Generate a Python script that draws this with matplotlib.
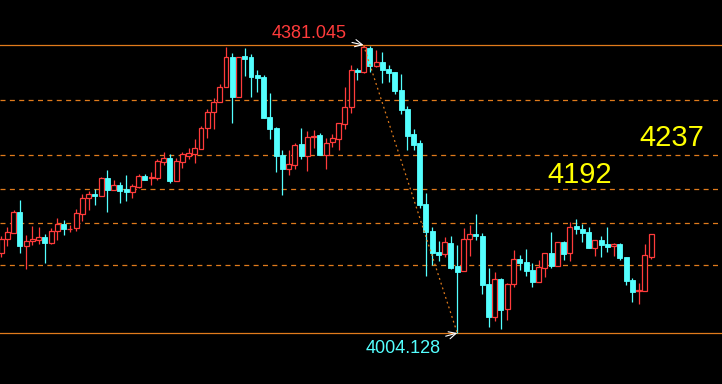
import matplotlib
matplotlib.use('Agg')
import matplotlib.pyplot as plt
import numpy as np

# OHLC, one entry per candle (left to right)
opens = [4108.8, 4127.2, 4135.0, 4162.5, 4118.0, 4124.5, 4125.8, 4129.8, 4121.9, 4137.6,
         4146.8, 4139.6, 4141.5, 4159.9, 4180.8, 4186.0, 4183.4, 4207.0, 4191.3, 4197.8,
         4192.6, 4188.7, 4195.2, 4209.6, 4207.6, 4207.0, 4227.9, 4233.2, 4203.1, 4227.9,
         4235.8, 4238.4, 4244.9, 4272.4, 4293.4, 4306.4, 4326.1, 4365.3, 4313.0, 4366.7,
         4365.3, 4341.8, 4339.2, 4286.8, 4272.4, 4237.1, 4218.8, 4224.0, 4251.5, 4235.8,
         4261.3, 4263.3, 4237.1, 4254.1, 4258.0, 4277.7, 4299.9, 4348.3, 4345.7, 4377.1,
         4353.6, 4358.8, 4349.6, 4345.7, 4322.2, 4297.3, 4264.6, 4252.8, 4173.0, 4137.6,
         4110.1, 4107.5, 4121.9, 4091.8, 4085.3, 4127.2, 4133.7, 4131.1, 4068.3, 4025.1,
         4074.8, 4035.5, 4068.3, 4101.0, 4097.1, 4086.6, 4070.9, 4089.2, 4108.8, 4091.8,
         4123.2, 4108.8, 4144.2, 4140.2, 4136.3, 4115.4, 4125.8, 4120.6, 4118.0, 4120.6,
         4103.6, 4073.5, 4059.1, 4059.1, 4103.6]
highs = [4131.1, 4142.9, 4165.1, 4178.2, 4132.4, 4144.2, 4142.9, 4133.7, 4141.5, 4154.6,
         4152.0, 4145.5, 4166.4, 4186.0, 4190.0, 4192.6, 4208.3, 4217.5, 4204.4, 4201.8,
         4210.9, 4199.1, 4212.2, 4212.2, 4214.8, 4231.9, 4241.0, 4238.4, 4233.2, 4241.0,
         4246.3, 4258.0, 4275.0, 4297.3, 4311.7, 4330.0, 4378.4, 4370.6, 4365.3, 4377.1,
         4369.3, 4348.3, 4341.8, 4318.2, 4273.7, 4243.6, 4243.6, 4252.8, 4272.4, 4268.5,
         4269.8, 4265.9, 4259.3, 4264.6, 4279.0, 4326.1, 4354.9, 4350.9, 4381.045, 4379.7,
         4374.5, 4371.9, 4354.9, 4345.7, 4343.1, 4301.2, 4271.1, 4256.7, 4187.4, 4142.9,
         4124.5, 4129.8, 4131.1, 4119.3, 4141.5, 4145.5, 4159.9, 4135.0, 4089.2, 4084.0,
         4076.1, 4069.6, 4112.8, 4106.2, 4114.1, 4095.7, 4099.7, 4108.8, 4136.3, 4123.2,
         4124.5, 4149.4, 4153.3, 4146.8, 4142.9, 4125.8, 4131.1, 4142.9, 4121.9, 4121.9,
         4103.6, 4076.1, 4069.6, 4120.6, 4133.7]
lows = [4103.6, 4118.0, 4135.0, 4108.8, 4087.9, 4119.3, 4120.6, 4095.7, 4120.6, 4125.8,
        4132.4, 4136.3, 4137.6, 4150.7, 4165.1, 4171.7, 4183.4, 4162.5, 4191.3, 4174.3,
        4176.9, 4180.8, 4193.9, 4204.4, 4197.8, 4204.4, 4224.0, 4200.4, 4203.1, 4220.1,
        4231.9, 4226.6, 4244.9, 4259.3, 4271.1, 4306.4, 4326.1, 4279.0, 4313.0, 4340.5,
        4313.0, 4319.5, 4285.5, 4258.0, 4214.8, 4184.7, 4210.9, 4218.8, 4231.9, 4216.2,
        4246.3, 4237.1, 4218.8, 4247.6, 4243.6, 4271.1, 4292.1, 4335.2, 4344.4, 4345.7,
        4352.3, 4331.3, 4332.6, 4316.9, 4290.7, 4243.6, 4243.6, 4167.7, 4078.7, 4093.1,
        4098.4, 4103.6, 4087.9, 4004.128, 4085.3, 4104.9, 4125.8, 4055.2, 4012.0, 4019.8,
        4009.4, 4021.1, 4064.3, 4086.6, 4078.7, 4064.3, 4070.9, 4077.4, 4089.2, 4091.8,
        4099.7, 4098.4, 4133.7, 4123.2, 4115.4, 4104.9, 4103.6, 4110.1, 4104.9, 4099.7,
        4067.0, 4044.7, 4042.1, 4059.1, 4101.0]
closes = [4127.2, 4136.3, 4162.5, 4118.0, 4124.5, 4127.2, 4129.8, 4121.9, 4137.6, 4146.8,
          4140.2, 4140.2, 4161.2, 4180.8, 4186.0, 4183.4, 4207.0, 4191.3, 4197.8, 4190.0,
          4188.7, 4196.5, 4209.6, 4204.4, 4208.3, 4229.2, 4233.2, 4203.1, 4229.2, 4238.4,
          4239.7, 4246.3, 4272.4, 4293.4, 4306.4, 4326.1, 4365.3, 4313.0, 4365.3, 4362.7,
          4339.2, 4337.9, 4285.5, 4271.1, 4235.8, 4218.8, 4225.3, 4250.2, 4235.8, 4260.6,
          4262.0, 4237.1, 4252.8, 4259.3, 4279.0, 4299.9, 4348.3, 4345.7, 4378.4, 4353.6,
          4358.8, 4348.3, 4344.4, 4320.8, 4296.0, 4262.0, 4250.2, 4171.7, 4136.3, 4108.8,
          4106.2, 4123.2, 4089.2, 4084.0, 4127.2, 4133.7, 4131.1, 4067.0, 4025.1, 4074.8,
          4034.2, 4068.3, 4101.0, 4095.7, 4085.3, 4070.9, 4090.5, 4108.8, 4091.8, 4123.2,
          4107.5, 4142.9, 4140.2, 4135.0, 4115.4, 4125.8, 4119.3, 4116.7, 4120.6, 4102.3,
          4072.2, 4057.8, 4060.4, 4106.2, 4133.7]

swing_high = 4381.045
swing_low = 4004.128
high_idx = 58
low_idx = 73
fib_ratios = [0.236, 0.382, 0.5, 0.618, 0.809]
marked_levels = ['4237', '4192']

up_col = '#ff3b3b'
down_col = '#54ffff'
line_col = '#e07b1c'

fig = plt.figure(figsize=(7.22, 3.84), dpi=100, facecolor='black')
ax = fig.add_axes([0, 0, 1, 1])
ax.set_facecolor('black')

x = np.arange(len(opens))
o = np.array(opens)
c = np.array(closes)
up = c >= o

# wicks
ax.vlines(x, lows, highs, colors=np.where(up, up_col, down_col), linewidth=0.9, zorder=2)
# bodies: red hollow, cyan filled
ax.bar(x[up], (c - o)[up], bottom=o[up], width=0.8, facecolor='black',
       edgecolor=up_col, linewidth=0.9, zorder=3)
ax.bar(x[~up], (c - o)[~up], bottom=o[~up], width=0.8, facecolor=down_col,
       edgecolor=down_col, linewidth=0.6, zorder=3)

# swing high / low and retracement levels
ax.axhline(swing_high, color=line_col, linewidth=0.9, zorder=1)
ax.axhline(swing_low, color=line_col, linewidth=0.9, zorder=1)
for r in fib_ratios:
    ax.axhline(swing_low + r * (swing_high - swing_low), color=line_col,
               linewidth=0.9, dashes=(4, 3.5), zorder=1)
ax.plot([high_idx, low_idx], [swing_high, swing_low], color=line_col,
        linewidth=0.9, dashes=(1.5, 2.5), zorder=4)

ax.annotate('4381.045', xy=(high_idx, swing_high), xytext=(-17, 12),
            textcoords='offset pixels', ha='right', va='center',
            color=up_col, fontsize=13, family='Liberation Sans',
            arrowprops=dict(arrowstyle='->', color='white', lw=0.8,
                            shrinkA=2, shrinkB=0))
ax.annotate('4004.128', xy=(low_idx, swing_low), xytext=(-17, -15),
            textcoords='offset pixels', ha='right', va='center',
            color=down_col, fontsize=13, family='Liberation Sans',
            arrowprops=dict(arrowstyle='->', color='white', lw=0.8,
                            shrinkA=2, shrinkB=0))

ax.text(107.4, 4259.3, marked_levels[0], ha='center', va='center',
        color='#ffff00', fontsize=21, family='Liberation Sans')
ax.text(92.6, 4210.9, marked_levels[1], ha='center', va='center',
        color='#ffff00', fontsize=21, family='Liberation Sans')

ax.set_xlim(-0.16, 115.36)
ax.set_ylim(3937.4, 4439.94)
ax.axis('off')

fig.savefig('out.png', dpi=100, facecolor='black')
